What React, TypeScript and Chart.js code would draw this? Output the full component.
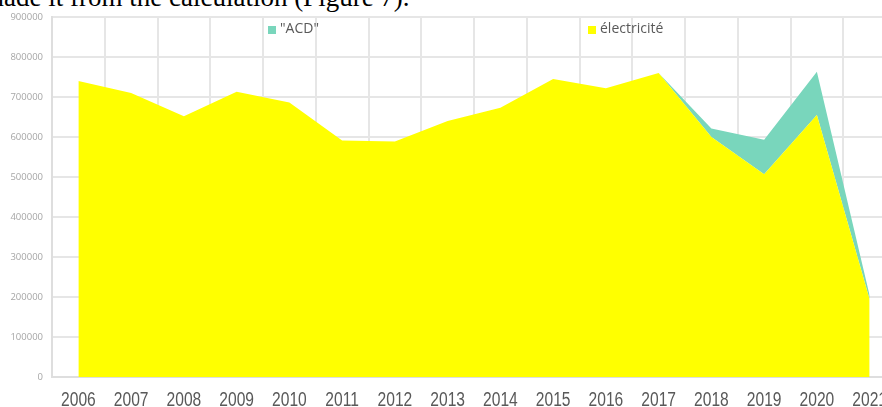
import React, { useEffect, useRef } from "react";
import { Chart, registerables } from "chart.js";

Chart.register(...registerables);

const YEARS = ["2006", "2007", "2008", "2009", "2010", "2011", "2012", "2013", "2014", "2015", "2016", "2017", "2018", "2019", "2020", "2021"];
const ELECTRICITE = [740000, 710000, 652000, 713000, 686000, 591000, 589000, 640000, 673000, 745000, 722000, 760000, 600000, 507000, 655000, 194000];
const ACD = [0, 0, 0, 0, 0, 0, 0, 0, 0, 0, 0, 0, 21000, 86000, 108000, 10000];
const Y_MAX = 900000;
const Y_STEP = 100000;
const CAPTION = "made it from the calculation (Figure 7).";

const YELLOW = "#ffff00";
const GREEN = "#79d6bc";

const insideLegend = {
  id: "insideLegend",
  afterDraw(chart: any) {
    const ctx = chart.ctx;
    const spots = [
      { ds: 1, x: 268, y: 26 },
      { ds: 0, x: 588, y: 26 },
    ];
    ctx.save();
    ctx.font = "14px 'Open Sans'";
    ctx.textBaseline = "middle";
    ctx.textAlign = "left";
    spots.forEach((s) => {
      const d = chart.data.datasets[s.ds];
      ctx.fillStyle = d.backgroundColor;
      ctx.fillRect(s.x, s.y, 8, 8);
      ctx.fillStyle = "#595959";
      ctx.fillText(d.label, s.x + 12, s.y + 3.5);
    });
    ctx.restore();
  },
};

// category labels drawn horizontally condensed, as in the reference image
const condensedXLabels = {
  id: "condensedXLabels",
  afterDraw(chart: any) {
    const ctx = chart.ctx;
    const xs = chart.scales.x;
    const labels: string[] = chart.data.labels;
    const sx = 0.78;
    ctx.save();
    ctx.font = "20px 'Liberation Sans', Arial";
    ctx.fillStyle = "#595959";
    ctx.textAlign = "center";
    ctx.textBaseline = "alphabetic";
    labels.forEach((lab, i) => {
      const px = xs.getPixelForValue(i);
      ctx.save();
      ctx.translate(px, 0);
      ctx.scale(sx, 1);
      ctx.fillText(lab, 0, 406);
      ctx.restore();
    });
    ctx.restore();
  },
};

export default function App() {
  const ref = useRef<HTMLCanvasElement | null>(null);
  useEffect(() => {
    if (!ref.current) return;
    const chart = new Chart(ref.current, {
      type: "line",
      data: {
        labels: YEARS,
        datasets: [
          {
            label: "électricité",
            data: ELECTRICITE,
            backgroundColor: YELLOW,
            borderColor: "rgba(0,0,0,0)",
            borderWidth: 0,
            pointRadius: 0,
            fill: "origin",
            tension: 0,
          },
          {
            label: "\"ACD\"",
            data: ACD,
            backgroundColor: GREEN,
            borderColor: "rgba(0,0,0,0)",
            borderWidth: 0,
            pointRadius: 0,
            fill: "-1",
            tension: 0,
          },
        ],
      },
      options: {
        animation: false,
        responsive: false,
        layout: { padding: { top: 17, left: 0, right: 0, bottom: 0 } },
        plugins: { legend: { display: false }, tooltip: { enabled: false } },
        scales: {
          x: {
            offset: true,
            grid: { offset: true, color: "#e6e6e6", lineWidth: 2, drawTicks: false },
            border: { color: "#dedede", width: 2 },
            ticks: { display: false },
            afterFit: (s: any) => {
              s.height = 40;
            },
          },
          y: {
            stacked: true,
            min: 0,
            max: Y_MAX,
            grid: { color: "#e6e6e6", lineWidth: 2, drawTicks: false },
            border: { color: "#dedede", width: 2 },
            ticks: {
              stepSize: Y_STEP,
              color: "#a6a6a6",
              font: { family: "'Open Sans'", size: 9.5 },
              padding: 9,
              callback: (v: any) => String(v),
            },
            afterFit: (s: any) => {
              s.width = 52;
            },
          },
        },
      },
      plugins: [insideLegend, condensedXLabels],
    });
    return () => chart.destroy();
  }, []);

  return (
    <div style={{ position: "fixed", left: 0, top: 0, width: 882, height: 407, overflow: "hidden", background: "#fff" }}>
      <div
        style={{
          position: "absolute",
          left: -17,
          top: -16,
          fontFamily: "'Liberation Serif', 'Times New Roman', serif",
          fontSize: 27,
          lineHeight: "27px",
          color: "#000",
          whiteSpace: "nowrap",
        }}
      >
        {CAPTION}
      </div>
      <canvas ref={ref} width={896} height={417} style={{ position: "absolute", left: 0, top: 0, width: 896, height: 417 }} />
    </div>
  );
}
